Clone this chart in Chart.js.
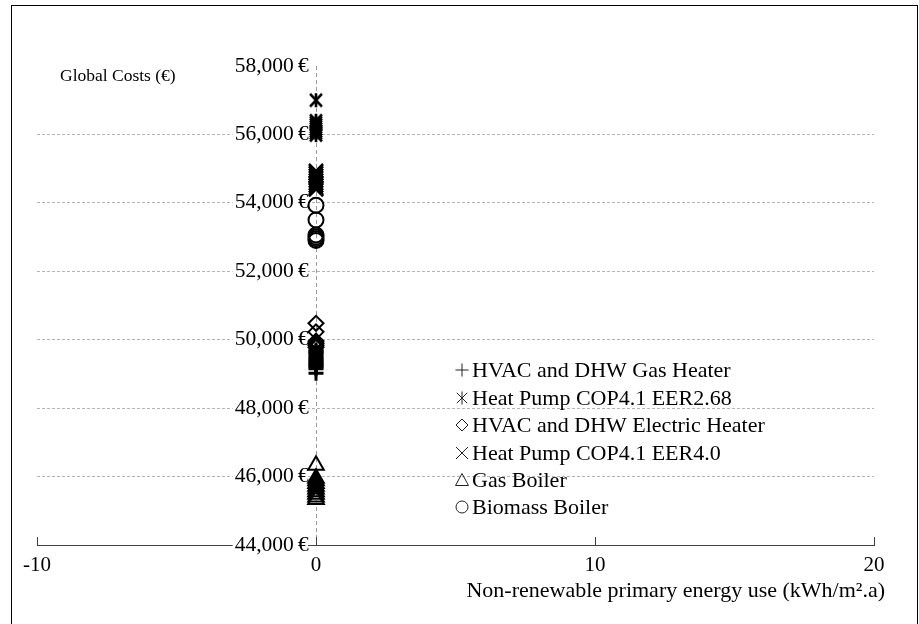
<!DOCTYPE html>
<html>
<head>
<meta charset="utf-8">
<script src="https://cdn.jsdelivr.net/npm/chart.js@4.4.1/dist/chart.umd.min.js"></script>
<style>
  html, body { margin: 0; padding: 0; background: #fff; overflow: hidden; }
  #wrap { position: relative; width: 919px; height: 624px; }
  #chart { position: absolute; left: 0; top: 0; }
  #frame { position: absolute; left: 11px; top: 5px; width: 907px; height: 700px;
           border: 1px solid #000; box-sizing: border-box; pointer-events: none; }
</style>
</head>
<body>
<div id="wrap">
  <canvas id="chart" width="919" height="624"></canvas>
  <div id="frame"></div>
</div>
<script>
// Building system variants (all at zero non-renewable primary energy use)
const seriesNames = [
  'HVAC and DHW Gas Heater',
  'Heat Pump COP4.1 EER2.68',
  'HVAC and DHW Electric Heater',
  'Heat Pump COP4.1 EER4.0',
  'Gas Boiler',
  'Biomass Boiler'
];
const primaryEnergyUse = 0; // kWh/m².a

// Global costs (€) of each package
const gasHeaterCosts      = [49700, 49660, 49620, 49580, 49520, 49470, 49420, 49380, 49330, 49290, 49250, 49200, 49150, 49020];
const heatPumpEER268Costs = [57000, 56400, 56340, 56280, 56220, 56160, 56100, 56040, 55980];
const electricHeaterCosts = [50480, 50230, 49960, 49900, 49840, 49780];
const heatPumpEER40Costs  = [54930, 54860, 54790, 54720, 54650, 54580, 54510, 54440, 54400];
const gasBoilerCosts      = [46330, 45950, 45880, 45800, 45720, 45640, 45560, 45480, 45400, 45330];
const biomassBoilerCosts  = [53930, 53500, 53060, 53000, 52950, 52900];

const xTickValues = [-10, 0, 10, 20];
const yTickValues = [44000, 46000, 48000, 50000, 52000, 54000, 56000, 58000];

const SERIF = "'Liberation Serif', 'Times New Roman', serif";

// Six-armed asterisk marker (vertical bar plus a saltire)
function makeAsterisk(size, lw) {
  const c = document.createElement('canvas');
  c.width = size; c.height = size;
  const g = c.getContext('2d');
  const m = size / 2, r = size / 2 - 1;
  g.strokeStyle = '#000'; g.lineWidth = lw; g.lineCap = 'butt';
  g.beginPath();
  g.moveTo(m, m - r); g.lineTo(m, m + r);
  const d = r * 0.85;
  g.moveTo(m - d, m - r * 0.9); g.lineTo(m + d, m + r * 0.9);
  g.moveTo(m + d, m - r * 0.9); g.lineTo(m - d, m + r * 0.9);
  g.stroke();
  return c;
}
const asteriskMarker = makeAsterisk(16, 2.6);

const toPoints = costs => costs.map(v => ({ x: primaryEnergyUse, y: v }));

const markerStyles = [
  { pointStyle: 'cross',    radius: 7.5, borderWidth: 3 },
  { pointStyle: asteriskMarker, radius: 8, borderWidth: 2 },
  { pointStyle: 'rectRot',  radius: 7.5, borderWidth: 2 },
  { pointStyle: 'crossRot', radius: 10,  borderWidth: 2.6 },
  { pointStyle: 'triangle', radius: 9,   borderWidth: 2 },
  { pointStyle: 'circle',   radius: 7.5, borderWidth: 2 }
];
const costSeries = [gasHeaterCosts, heatPumpEER268Costs, electricHeaterCosts,
                    heatPumpEER40Costs, gasBoilerCosts, biomassBoilerCosts];

const datasets = costSeries.map((costs, i) => ({
  label: seriesNames[i],
  data: toPoints(costs),
  showLine: false,
  pointStyle: markerStyles[i].pointStyle,
  pointRadius: markerStyles[i].radius,
  pointHoverRadius: markerStyles[i].radius,
  pointBorderWidth: markerStyles[i].borderWidth,
  pointBorderColor: '#000',
  pointBackgroundColor: 'rgba(0,0,0,0)'
}));

// Legend symbol drawn in thin strokes next to each series name
function drawLegendSymbol(ctx, kind, x, y) {
  const r = 6.5;
  ctx.save();
  ctx.strokeStyle = '#222';
  ctx.lineWidth = 1;
  ctx.beginPath();
  switch (kind) {
    case 0: ctx.moveTo(x - r, y); ctx.lineTo(x + r, y); ctx.moveTo(x, y - r); ctx.lineTo(x, y + r); break;
    case 1: ctx.moveTo(x, y - r); ctx.lineTo(x, y + r);
            ctx.moveTo(x - r * 0.8, y - r * 0.8); ctx.lineTo(x + r * 0.8, y + r * 0.8);
            ctx.moveTo(x + r * 0.8, y - r * 0.8); ctx.lineTo(x - r * 0.8, y + r * 0.8); break;
    case 2: ctx.moveTo(x, y - 6); ctx.lineTo(x + 6, y); ctx.lineTo(x, y + 6); ctx.lineTo(x - 6, y); ctx.closePath(); break;
    case 3: ctx.moveTo(x - 6, y - 6); ctx.lineTo(x + 6, y + 6); ctx.moveTo(x + 6, y - 6); ctx.lineTo(x - 6, y + 6); break;
    case 4: ctx.moveTo(x, y - 6.5); ctx.lineTo(x + 6.5, y + 5.5); ctx.lineTo(x - 6.5, y + 5.5); ctx.closePath(); break;
    case 5: ctx.arc(x, y, 6, 0, Math.PI * 2); break;
  }
  ctx.stroke();
  ctx.restore();
}

const annotations = {
  id: 'annotations',
  afterDraw(chart) {
    const ctx = chart.ctx;
    ctx.save();
    ctx.fillStyle = '#000';
    ctx.textBaseline = 'middle';
    // Value axis caption
    ctx.font = `17.5px ${SERIF}`;
    ctx.textAlign = 'left';
    ctx.fillText('Global Costs (€)', 60, 76);
    // Energy axis caption
    ctx.font = `22px ${SERIF}`;
    ctx.textAlign = 'right';
    ctx.fillText('Non-renewable primary energy use (kWh/m².a)', 885, 591);
    // Legend
    ctx.font = `22px ${SERIF}`;
    ctx.textAlign = 'left';
    const rowY = [370, 398, 425, 453, 480, 507];
    chart.data.datasets.forEach((ds, i) => {
      drawLegendSymbol(ctx, i, 462, rowY[i]);
      ctx.fillStyle = '#000';
      ctx.fillText(ds.label, 472, rowY[i] + 1);
    });
    ctx.restore();
  }
};

new Chart(document.getElementById('chart'), {
  type: 'scatter',
  data: { datasets },
  plugins: [annotations],
  options: {
    responsive: false,
    animation: false,
    layout: { padding: { left: 37, right: 45, top: 66, bottom: 0 } },
    plugins: { legend: { display: false }, tooltip: { enabled: false } },
    scales: {
      x: {
        type: 'linear',
        position: 'bottom',
        min: -10, max: 20,
        afterBuildTicks: s => { s.ticks = xTickValues.map(v => ({ value: v })); },
        afterFit: s => { s.height = 79; },
        grid: {
          display: true,
          drawOnChartArea: true,
          drawTicks: true,
          tickLength: -8,
          tickColor: '#404040',
          color: c => (c.tick && c.tick.value === 0) ? '#9a9a9a' : 'rgba(0,0,0,0)',
          lineWidth: 1
        },
        border: { display: true, color: '#404040', width: 1, dash: [4, 3] },
        ticks: {
          font: { family: SERIF, size: 21 },
          color: '#000',
          padding: 16,
          maxRotation: 0,
          callback: v => String(v)
        }
      },
      y: {
        type: 'linear',
        position: { x: 0 },
        min: 44000, max: 58000,
        afterBuildTicks: s => { s.ticks = yTickValues.map(v => ({ value: v })); },
        afterFit: s => { s.width = 0; },
        grid: {
          display: true,
          drawTicks: false,
          color: c => (c.tick && (c.tick.value === 44000 || c.tick.value === 58000)) ? 'rgba(0,0,0,0)' : '#b4b4b4',
          lineWidth: 1
        },
        border: { display: false, dash: [3, 2] },
        ticks: {
          z: 0,
          font: { family: SERIF, size: 21.5 },
          color: '#000',
          padding: 0,
          showLabelBackdrop: true,
          backdropColor: '#fff',
          backdropPadding: { top: 0, bottom: 0, left: 2, right: -8 },
          // trailing space keeps the label clear of the zero line
          callback: v => v.toLocaleString('en-US') + '\u2009€\u2004'
        }
      }
    }
  }
});
</script>
</body>
</html>
